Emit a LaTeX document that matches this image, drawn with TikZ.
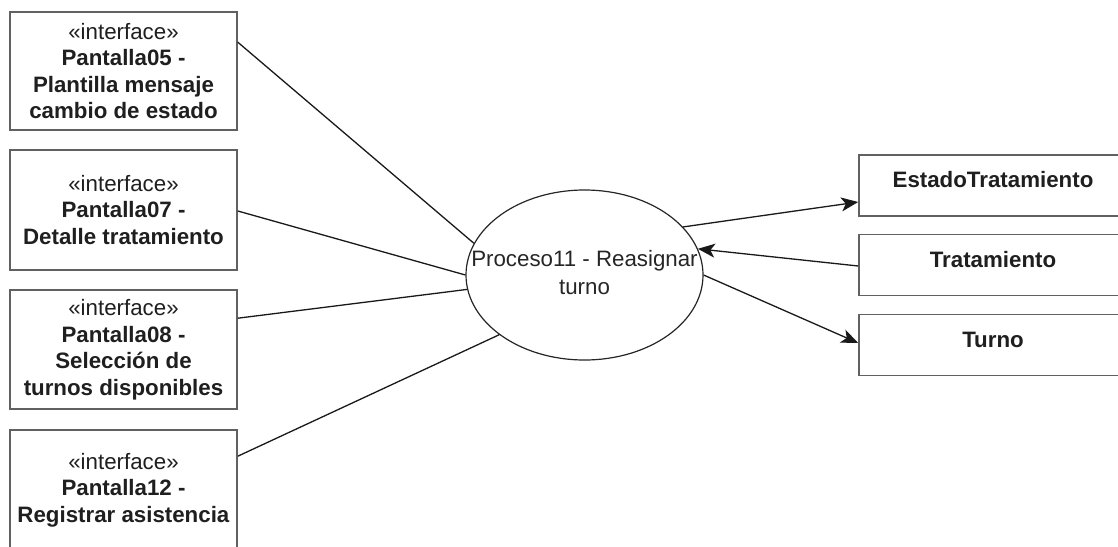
\documentclass[tikz,border=0pt]{standalone}
\usepackage{fontspec}
\setmainfont{Liberation Sans}
\usetikzlibrary{shapes.geometric,arrows.meta}
\begin{document}
\begin{tikzpicture}[x=1pt,y=-1pt,
  ifacebox/.style={draw=black!62, line width=1.6pt, fill=white,
    minimum width=227pt, inner sep=0pt, align=center, text=black!88,
    font=\fontsize{22.3}{26.5}\selectfont},
  entbox/.style={draw=black!62, line width=1.6pt, fill=white,
    minimum width=268pt, minimum height=61pt, inner sep=0pt,
    text height=17pt, text depth=13pt, text=black!88,
    font=\fontsize{22.3}{26.5}\selectfont\bfseries},
  procshape/.style={ellipse, draw=black!85, line width=1.2pt, fill=white,
    minimum width=237pt, minimum height=170pt, inner sep=0pt, text=black!85,
    font=\fontsize{22.3}{28}\selectfont},
  link/.style={draw=black!90, line width=1.3pt},
  arr/.style={link, -{Stealth[length=17pt,width=14pt,inset=4.5pt]}}]

\useasboundingbox (0,0) rectangle (1118,546);
\clip (0,0) rectangle (1118,546);

% interface screens on the left
\node[ifacebox, minimum height=118pt] (b1) at (123.5,71)
  {«interface»\\\textbf{Pantalla05 -}\\\textbf{Plantilla mensaje}\\\textbf{cambio de estado}};
\node[ifacebox, minimum height=120pt] (b2) at (123.5,210)
  {«interface»\\\textbf{Pantalla07 -}\\\textbf{Detalle tratamiento}};
\node[ifacebox, minimum height=119pt] (b3) at (123.5,349.5)
  {«interface»\\\textbf{Pantalla08 -}\\\textbf{Selección de}\\\textbf{turnos disponibles}};
\node[ifacebox, minimum height=120pt] (b4) at (123.5,490)
  {«interface»\\\textbf{Pantalla12 -}\\\textbf{Registrar asistencia}};

% process
\node[procshape] (proc) at (584.5,275)
  {\makebox[0pt]{\begin{tabular}{@{}c@{}}Proceso11 - Reasignar\\turno\end{tabular}}};

% entities on the right
\node[entbox] (e1) at (993,185.5) {EstadoTratamiento};
\node[entbox] (e2) at (993,265) {Tratamiento};
\node[entbox] (e3) at (993,345) {Turno};

% connectors
\draw[link] ([yshift=-31pt]b1.north east) -- (proc.164);
\draw[link] ([yshift=-1pt]b2.east) -- (proc.180);
\draw[link] ([yshift=-29pt]b3.north east) -- (proc.187);
\draw[link] ([yshift=-27pt]b4.north east) -- (proc.215);

\draw[arr] (proc.26) -- ([yshift=-16.5pt]e1.west);
\draw[arr] ([yshift=-1pt]e2.west) -- (proc.13);
\draw[arr] (proc.0) -- ([yshift=2pt]e3.west);
\end{tikzpicture}
\end{document}
